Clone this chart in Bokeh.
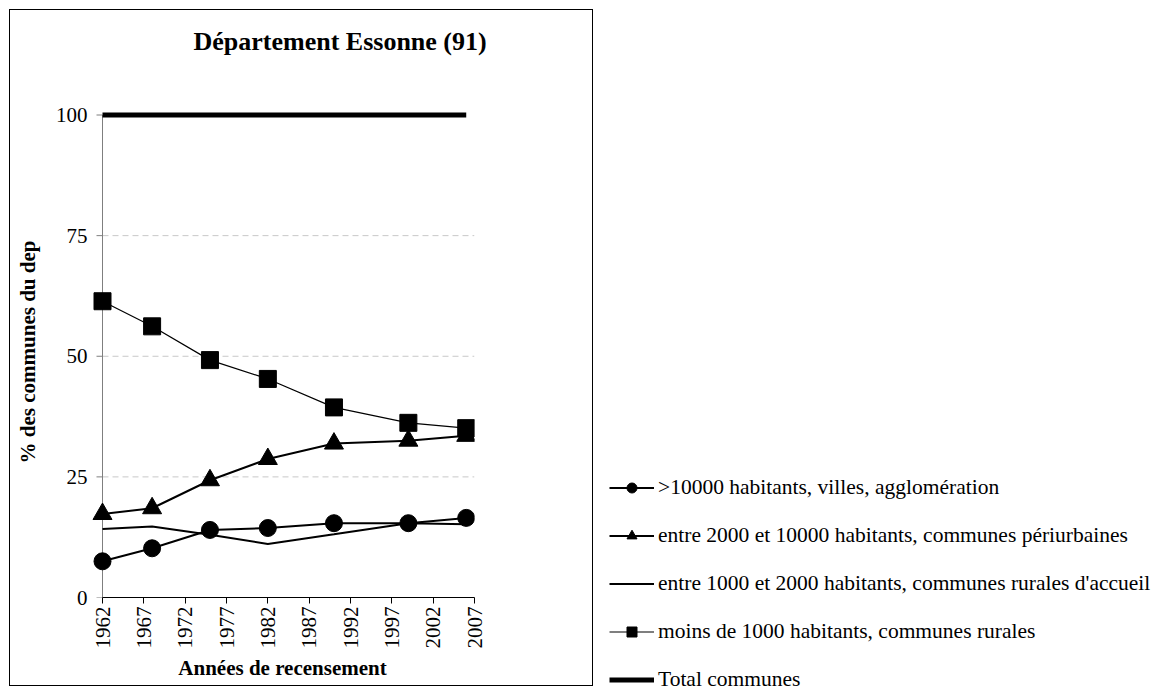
import math
from bokeh.plotting import figure
from bokeh.layouts import row
from bokeh.models import (Range1d, FixedTicker, Legend, LegendItem,
                          InlineStyleSheet, Title)
from bokeh.embed import file_html
from bokeh.resources import INLINE

# ---------------- data ----------------
years = [1962, 1968, 1975, 1982, 1990, 1999, 2006]
villes = [7.5, 10.2, 14.0, 14.4, 15.4, 15.4, 16.5]          # >10000 habitants
periurbaines = [17.3, 18.5, 24.3, 28.7, 31.9, 32.5, 33.5]   # 2000-10000
accueil = [14.2, 14.7, 13.0, 11.1, 13.1, 15.4, 15.2]        # 1000-2000
rurales = [61.4, 56.2, 49.2, 45.3, 39.4, 36.2, 35.1]        # <1000
total = [100, 100, 100, 100, 100, 100, 100]

x_ticks = [1962, 1967, 1972, 1977, 1982, 1987, 1992, 1997, 2002, 2007]
y_ticks = [0, 25, 50, 75, 100]
grid_values = [25, 50, 75]

title_text = "Département Essonne (91)"
x_title = "Années de recensement"
y_title = "% des communes du dep"
legend_labels = [
    ">10000 habitants, villes, agglomération",
    "entre 2000 et 10000 habitants, communes périurbaines",
    "entre 1000 et 2000 habitants, communes rurales d'accueil",
    "moins de 1000 habitants, communes rurales",
    "Total communes",
]

# ---------------- layout ----------------
FONT = "Liberation Serif"
W_MAIN, W_LEG, H = 594, 557, 692
FL, FR, FT, FB = 90, 474, 106, 597         # frame edges (canvas px)
AX_LEFT_PX, Y100_PX = 102, 114.5           # where 1962 and 100 sit
ppy = (FR - AX_LEFT_PX) / (x_ticks[-1] - x_ticks[0])
ppu = (FB - Y100_PX) / (y_ticks[-1] - y_ticks[0])
x_start = x_ticks[0] - (AX_LEFT_PX - FL) / ppy
y_end = y_ticks[-1] + (Y100_PX - FT) / ppu
tick_len = 6 / ppy

border_css = InlineStyleSheet(css="""
:host { position: relative; }
:host::after {
  content: "";
  position: absolute;
  left: 9px; top: 9px; width: 584px; height: 677px;
  border: 1px solid #000;
  box-sizing: border-box;
  pointer-events: none;
}
""")

p = figure(width=W_MAIN, height=H,
           x_range=Range1d(x_start, x_ticks[-1]),
           y_range=Range1d(y_ticks[0], y_end),
           output_backend="svg", toolbar_location=None,
           min_border_left=FL, min_border_right=W_MAIN - FR,
           min_border_top=FT, min_border_bottom=H - FB,
           outline_line_color=None,
           background_fill_color="white", border_fill_color="white",
           stylesheets=[border_css])

# title: a blank spacer next to the frame, the real title above it
p.title.text = ""
spacer = Title(text=".", text_font_size="1px", text_color="white", standoff=43)
main_title = Title(text=title_text, text_font=FONT, text_font_style="bold",
                   text_font_size="26px", text_color="black",
                   align="left", offset=103, standoff=10)
p.add_layout(spacer, "above")
p.add_layout(main_title, "above")

# grid (dashed, only between the axis and the right end)
p.xgrid.visible = False
p.ygrid.visible = False
p.segment(x0=[x_ticks[0]] * len(grid_values), y0=grid_values,
          x1=[x_ticks[-1]] * len(grid_values), y1=grid_values,
          line_color="#c8c8c8", line_dash="6 4", line_width=1)

# y axis line and tick marks at 1962
p.segment(x0=[x_ticks[0]], y0=[y_ticks[0]], x1=[x_ticks[0]], y1=[y_ticks[-1]],
          line_color="#7f7f7f", line_width=1)
p.segment(x0=[x_ticks[0] - tick_len] * len(y_ticks), y0=y_ticks,
          x1=[x_ticks[0]] * len(y_ticks), y1=y_ticks,
          line_color="#7f7f7f", line_width=1)

# axes
p.xaxis.ticker = FixedTicker(ticks=x_ticks)
p.xaxis.bounds = (x_ticks[0], x_ticks[-1])
p.xaxis.major_label_orientation = math.pi / 2
p.xaxis.major_tick_out = 6
p.xaxis.major_tick_in = 0
p.xaxis.minor_tick_line_color = None
p.xaxis.axis_line_color = "black"
p.xaxis.major_tick_line_color = "black"
p.xaxis.major_label_standoff = 3
p.xaxis.axis_label = x_title
p.xaxis.axis_label_standoff = 4

p.yaxis.ticker = FixedTicker(ticks=y_ticks)
p.yaxis.major_tick_out = 0
p.yaxis.major_tick_in = 0
p.yaxis.minor_tick_line_color = None
p.yaxis.axis_line_color = None
p.yaxis.major_tick_line_color = None
p.yaxis.major_label_standoff = 3
p.yaxis.axis_label = y_title
p.yaxis.axis_label_standoff = 13

for ax in (p.xaxis[0], p.yaxis[0]):
    ax.major_label_text_font = FONT
    ax.major_label_text_font_size = "21px"
    ax.major_label_text_color = "black"
    ax.axis_label_text_font = FONT
    ax.axis_label_text_font_size = "21px"
    ax.axis_label_text_font_style = "bold"
    ax.axis_label_text_color = "black"


def draw_series(fig):
    r_acc = fig.line(years, accueil, line_color="black", line_width=2)
    r_rur_l = fig.line(years, rurales, line_color="black", line_width=1.2)
    r_rur_m = fig.scatter(years, rurales, marker="square", size=17,
                          fill_color="black", line_color="black")
    r_per_l = fig.line(years, periurbaines, line_color="black", line_width=2)
    r_per_m = fig.scatter(years, periurbaines, marker="triangle", size=19,
                          fill_color="black", line_color="black")
    r_vil_l = fig.line(years, villes, line_color="black", line_width=2)
    r_vil_m = fig.scatter(years, villes, marker="circle", size=17,
                          fill_color="black", line_color="black")
    r_tot = fig.line(years, total, line_color="black", line_width=5)
    return [[r_vil_l, r_vil_m], [r_per_l, r_per_m], [r_acc],
            [r_rur_l, r_rur_m], [r_tot]]


draw_series(p)

# legend panel to the right of the bordered chart (same series, own figure)
lf = figure(width=W_LEG, height=H, x_range=Range1d(0, 1), y_range=Range1d(0, 1),
            x_axis_type=None, y_axis_type=None, min_border=0,
            output_backend="svg", toolbar_location=None,
            outline_line_color=None,
            background_fill_color="white", border_fill_color="white")
lf.xgrid.visible = False
lf.ygrid.visible = False
for fig in (p, lf):
    try:
        fig.frame_align = False
    except Exception:
        pass
groups = draw_series(lf)   # data lies outside this figure's view; used for legend glyphs

items = [LegendItem(label=lab, renderers=rs) for lab, rs in zip(legend_labels, groups)]
ITEM_H, SPACING = 25, 23
legend_top = 487 - ITEM_H / 2
legend_h = len(items) * ITEM_H + (len(items) - 1) * SPACING
legend = Legend(items=items, location=(609 - W_MAIN, H - (legend_top + legend_h)),
                orientation="vertical", glyph_width=45, glyph_height=ITEM_H,
                label_height=ITEM_H, spacing=SPACING, label_standoff=4,
                padding=0, margin=0, border_line_color=None,
                background_fill_alpha=0,
                label_text_font=FONT, label_text_font_size="21.5px",
                label_text_color="black")
lf.add_layout(legend)

layout = row(p, lf, spacing=0)
open("out.html", "w").write(file_html(layout, INLINE))
